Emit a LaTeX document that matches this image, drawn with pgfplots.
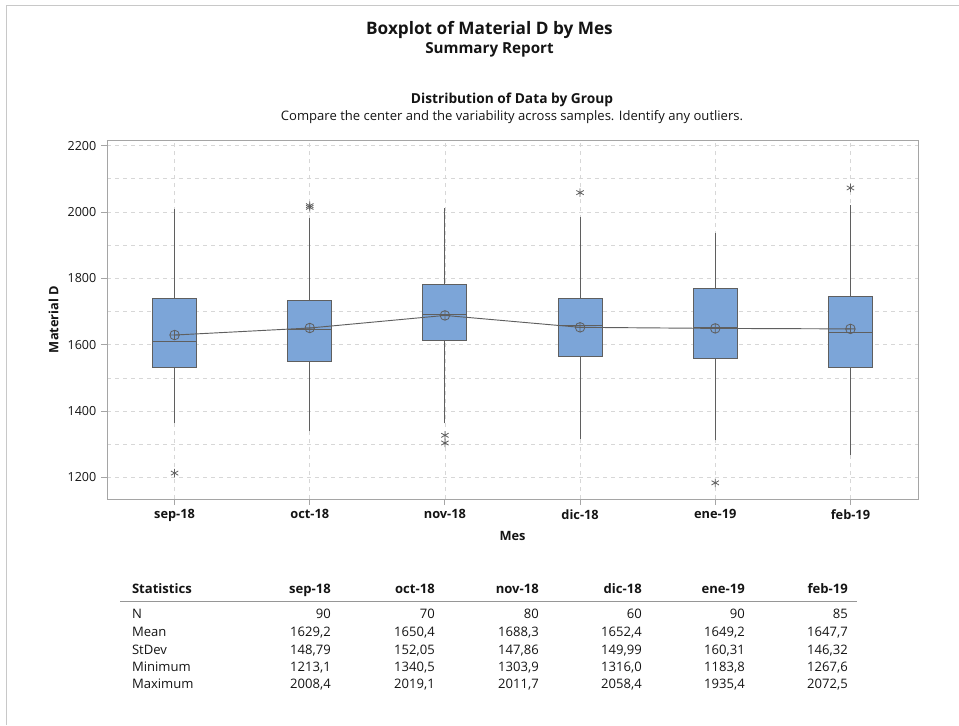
\documentclass[border=0pt]{standalone}
\usepackage{fontspec}
\setmainfont{Open Sans}
\usepackage{pgfplots}
\pgfplotsset{compat=1.18}
\usetikzlibrary{plotmarks}
\definecolor{boxblue}{RGB}{124,165,216}
\definecolor{boxedge}{RGB}{95,95,95}
\definecolor{gridc}{RGB}{215,215,215}
\definecolor{framec}{RGB}{165,165,165}
\definecolor{txt}{RGB}{20,20,20}
\begin{document}
\begin{tikzpicture}
% frame lines of report
\draw[color={rgb,255:red,200;green,200;blue,200}, line width=0.75pt] (4.5pt,-543.75pt) -- (4.5pt,-3.75pt) -- (719.25pt,-3.75pt);
% titles
\node[font=\fontsize{12.9}{14}\selectfont\bfseries, text=txt] at (367.1pt,-22.5pt) {Boxplot of Material D by Mes};
\node[font=\fontsize{11.4}{13}\selectfont\bfseries, text=txt] at (367.1pt,-37.5pt) {Summary Report};
\node[font=\fontsize{10.3}{12}\selectfont\bfseries, text=txt] at (384pt,-75pt) {Distribution of Data by Group};
\node[font=\fontsize{9.8}{11}\selectfont, text=txt] at (384pt,-87.75pt) {Compare the center and the variability across samples. Identify any outliers.};

\begin{axis}[
  at={(80.25pt,-374.25pt)}, anchor=south west,
  scale only axis, width=608.25pt, height=269.25pt,
  xmin=-0.5, xmax=5.5, ymin=1135, ymax=2217,
  xtick={0,1,2,3,4,5},
  xticklabels={sep-18,oct-18,nov-18,dic-18,ene-19,feb-19},
  ytick={1200,1400,1600,1800,2000,2200},
  minor ytick={1300,1500,1700,1900,2100},
  xmajorgrids, ymajorgrids, yminorgrids,
  major grid style={dashed, gridc, line width=0.6pt},
  minor grid style={dashed, gridc, line width=0.6pt},
  axis line style={framec, line width=0.7pt},
  tick style={framec, line width=0.7pt},
  tick align=outside, major tick length=4.5pt, minor tick length=0pt,
  xtick pos=bottom, ytick pos=left,
  /pgf/number format/1000 sep={},
  /pgf/number format/assume math mode=true,
  yticklabel style={font=\fontsize{9.4}{11}\selectfont, text=txt},
  xticklabel style={font=\fontsize{9.6}{11}\selectfont\bfseries, text=txt},
  xlabel={Mes}, ylabel={Material D},
  xlabel style={font=\fontsize{9.6}{11}\selectfont\bfseries, text=txt},
  ylabel style={font=\fontsize{9.6}{11}\selectfont\bfseries, text=txt},
  unbounded coords=jump,
]
% whiskers
\addplot[boxedge, line width=0.7pt] coordinates {
(0,1365) (0,1532) (nan,nan) (0,1738) (0,2008.4) (nan,nan)
(1,1340.5) (1,1551) (nan,nan) (1,1732) (1,1981) (nan,nan)
(2,1363) (2,1612) (nan,nan) (2,1782) (2,2011.7) (nan,nan)
(3,1316.0) (3,1565) (nan,nan) (3,1738) (3,1984) (nan,nan)
(4,1312) (4,1559) (nan,nan) (4,1770) (4,1935.4) (nan,nan)
(5,1267.6) (5,1532) (nan,nan) (5,1744.5) (5,2021)};
% boxes (Q1 to Q3)
\addplot[fill=boxblue, draw=boxedge, line width=0.7pt] coordinates {(-0.163,1532) (0.163,1532) (0.163,1738) (-0.163,1738)} -- cycle;
\addplot[fill=boxblue, draw=boxedge, line width=0.7pt] coordinates {(0.837,1551) (1.163,1551) (1.163,1732) (0.837,1732)} -- cycle;
\addplot[fill=boxblue, draw=boxedge, line width=0.7pt] coordinates {(1.837,1612) (2.163,1612) (2.163,1782) (1.837,1782)} -- cycle;
\addplot[fill=boxblue, draw=boxedge, line width=0.7pt] coordinates {(2.837,1565) (3.163,1565) (3.163,1738) (2.837,1738)} -- cycle;
\addplot[fill=boxblue, draw=boxedge, line width=0.7pt] coordinates {(3.837,1559) (4.163,1559) (4.163,1770) (3.837,1770)} -- cycle;
\addplot[fill=boxblue, draw=boxedge, line width=0.7pt] coordinates {(4.837,1532) (5.163,1532) (5.163,1744.5) (4.837,1744.5)} -- cycle;
% medians
\addplot[boxedge, line width=0.7pt] coordinates {
(-0.163,1611) (0.163,1611) (nan,nan)
(0.837,1646) (1.163,1646) (nan,nan)
(1.837,1691) (2.163,1691) (nan,nan)
(2.837,1657) (3.163,1657) (nan,nan)
(3.837,1651) (4.163,1651) (nan,nan)
(4.837,1637) (5.163,1637)};
% mean connect line
\addplot[boxedge, line width=0.7pt, mark=oplus, mark size=3.6pt, mark options={draw=boxedge, fill=none, line width=0.6pt}] coordinates {
(0,1629.2) (1,1650.4) (2,1688.3) (3,1652.4) (4,1649.2) (5,1647.7)};
% outliers
\addplot[only marks, mark=asterisk, mark size=3.2pt, mark options={draw=boxedge, line width=0.6pt}] coordinates {
(0,1213.1) (1,2014) (1,2019.1) (2,1327) (2,1303.9) (3,2058.4) (4,1183.8) (5,2072.5)};
\end{axis}

% statistics table
\begin{scope}[every node/.style={font=\fontsize{9.8}{11}\selectfont, text=txt, inner sep=0pt}]
\node[anchor=base west, font=\fontsize{9.8}{11}\selectfont\bfseries] at (98.8pt,-445.1pt) {Statistics};
\foreach \x/\lab in {248.25/sep-18, 326.25/oct-18, 404.25/nov-18, 481.5/dic-18, 558.75/ene-19, 636/feb-19}{
  \node[anchor=base east, font=\fontsize{9.8}{11}\selectfont\bfseries] at (\x pt,-445.1pt) {\lab};
}
\draw[color={rgb,255:red,150;green,150;blue,150}, line width=0.75pt] (90pt,-450.75pt) -- (642.75pt,-450.75pt);
\foreach \yy/\lab in {-463.9/N, -477.4/Mean, -490.9/StDev, -503.6/Minimum, -516.4/Maximum}{
  \node[anchor=base west] at (98.8pt,\yy pt) {\lab};
}
\foreach \x/\a/\b/\c/\d/\e in {
  248.25/90/{1629,2}/{148,79}/{1213,1}/{2008,4},
  326.25/70/{1650,4}/{152,05}/{1340,5}/{2019,1},
  404.25/80/{1688,3}/{147,86}/{1303,9}/{2011,7},
  481.5/60/{1652,4}/{149,99}/{1316,0}/{2058,4},
  558.75/90/{1649,2}/{160,31}/{1183,8}/{1935,4},
  636/85/{1647,7}/{146,32}/{1267,6}/{2072,5}}{
  \node[anchor=base east] at (\x pt,-463.9pt) {\a};
  \node[anchor=base east] at (\x pt,-477.4pt) {\b};
  \node[anchor=base east] at (\x pt,-490.9pt) {\c};
  \node[anchor=base east] at (\x pt,-503.6pt) {\d};
  \node[anchor=base east] at (\x pt,-516.4pt) {\e};
}
\end{scope}

\pgfresetboundingbox
\path (0pt,0pt) rectangle (719.25pt,-543.75pt);
\end{tikzpicture}
\end{document}
